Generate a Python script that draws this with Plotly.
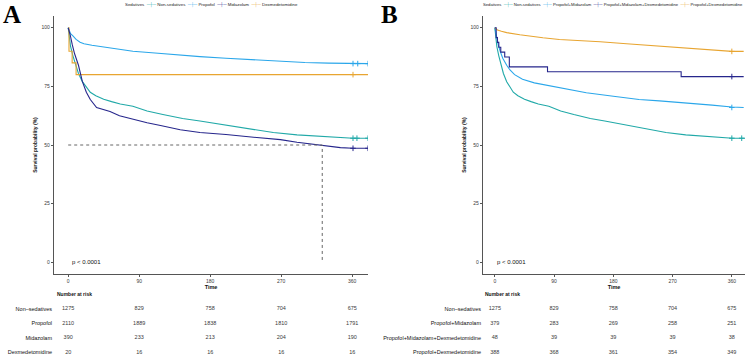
import plotly.graph_objects as go

# ---------------- data ----------------
time_ticks = [0, 90, 180, 270, 360]
y_ticks = [0, 25, 50, 75, 100]

# Panel A
nonsed_t = [0, 1, 3, 6, 9, 13, 18, 23, 28, 35, 45, 55, 66, 82, 100, 120, 145, 167, 200, 227, 260, 290, 319, 340, 361, 380]
nonsed_s = [100, 97, 92, 88, 85, 80.5, 77, 74.5, 72.5, 71, 69.5, 68.5, 67.5, 66.5, 64.5, 63, 61.3, 60.2, 58.5, 56.8, 55.3, 54.3, 53.6, 53.2, 52.9, 52.9]
nonsed_cens = [361, 366, 380]

prop_t = [0, 1, 3, 6, 10, 15, 20, 30, 40, 60, 82, 110, 142, 167, 200, 240, 269, 300, 330, 361, 380]
prop_s = [100, 99, 97.5, 96.5, 95, 93.8, 93.2, 92.5, 92, 91, 90, 89.2, 88.3, 87.7, 87, 86.2, 85.6, 85.2, 84.9, 84.7, 84.7]
prop_cens = [361, 367, 380]

mid_t = [0, 1, 2.5, 5, 8, 13, 18, 23, 28, 36, 45, 53, 65, 82, 100, 117, 142, 167, 200, 235, 269, 290, 307, 315, 322, 345, 361, 380]
mid_s = [100, 99, 97, 93, 89, 84, 77, 72.5, 69.4, 66, 65, 64.3, 62.5, 60.9, 59.5, 58.3, 56.5, 55.3, 54.5, 53.3, 52.3, 51.2, 50.4, 50.2, 49.8, 48.9, 48.6, 48.6]
mid_cens = [361, 380]

dex_t = [0, 1, 5, 10, 380]
dex_s = [100, 90, 85, 80, 80]
dex_cens = [361]

# Panel B
pm_t = [0, 2, 5, 8, 12, 18, 23, 30, 42, 60, 88, 110, 139, 180, 219, 250, 290, 330, 360, 378]
pm_s = [100, 97, 93, 90, 87, 84, 82, 80, 78, 76.5, 74.9, 73.8, 72.3, 70.8, 69.4, 68.8, 68, 67, 66.2, 66.0]
pm_cens = [360]

pmd_t = [0, 2, 4, 6, 9, 15, 22, 80, 283, 378]
pmd_s = [100, 95.8, 93.75, 91.7, 89.6, 87.5, 83.3, 81.25, 79.17, 79.17]
pmd_cens = [360]

pd_t = [0, 4, 10, 18, 38, 55, 73, 98, 129, 160, 200, 240, 275, 310, 340, 360, 378]
pd_s = [100, 99, 98.5, 97.9, 97, 96.3, 95.7, 95, 94.6, 94, 93.2, 92.3, 91.5, 90.8, 90.2, 89.9, 89.9]
pd_cens = [360]

nonsedB_cens = [360, 375]

groups_A = ["Non\u2013sedatives", "Propofol", "Midazolam", "Dexmedetomidine"]
groups_B = ["Non\u2013sedatives", "Propofol+Midazolam", "Propofol+Midazolam+Dexmedetomidine", "Propofol+Dexmedetomidine"]
legend_A = ["Non-sedatives", "Propofol", "Midazolam", "Dexmedetomidine"]
legend_B = ["Non-sedatives", "Propofol+Midazolam", "Propofol+Midazolam+Dexmedetomidine", "Propofol+Dexmedetomidine"]

risk_A = [[1275, 829, 758, 704, 675],
          [2110, 1889, 1838, 1810, 1791],
          [390, 233, 213, 204, 190],
          [20, 16, 16, 16, 16]]
risk_B = [[1275, 829, 758, 704, 675],
          [379, 283, 269, 258, 251],
          [48, 39, 39, 39, 38],
          [388, 368, 361, 354, 349]]

# ---------------- style ----------------
colors = ["#21A9A8", "#2BA7EA", "#26268C", "#E8A531"]
W, H = 750, 357
FONT = "Liberation Sans, Arial, sans-serif"
TXT = "#3a3a3a"

def px_x(p):
    return p / W

def px_y(p):
    return 1 - p / H

fig = go.Figure()

def add_curve(t, s, cens, color, xa, ya, shape="linear"):
    fig.add_trace(go.Scatter(x=t, y=s, mode="lines", line=dict(color=color, width=1.1, shape=shape),
                             xaxis=xa, yaxis=ya, showlegend=False, hoverinfo="skip"))
    cy = [s[-1] for _ in cens]
    fig.add_trace(go.Scatter(x=cens, y=cy, mode="markers",
                             marker=dict(symbol="cross-thin", size=4, line=dict(color=color, width=1)),
                             xaxis=xa, yaxis=ya, showlegend=False, hoverinfo="skip"))

# Panel A curves
add_curve(nonsed_t, nonsed_s, nonsed_cens, colors[0], "x", "y")
add_curve(prop_t, prop_s, prop_cens, colors[1], "x", "y")
add_curve(dex_t, dex_s, dex_cens, colors[3], "x", "y", shape="hv")
add_curve(mid_t, mid_s, mid_cens, colors[2], "x", "y")

# median line for Midazolam
t_med = next(t for t, s in zip(mid_t, mid_s) if s <= 50)
fig.add_trace(go.Scatter(x=[0, t_med, t_med], y=[50, 50, 0], mode="lines",
                         line=dict(color="#666666", width=1, dash="dot"),
                         xaxis="x", yaxis="y", showlegend=False, hoverinfo="skip"))

# Panel B curves
add_curve(nonsed_t, nonsed_s, nonsedB_cens, colors[0], "x2", "y2")
add_curve(pm_t, pm_s, pm_cens, colors[1], "x2", "y2")
add_curve(pd_t, pd_s, pd_cens, colors[3], "x2", "y2")
add_curve(pmd_t, pmd_s, pmd_cens, colors[2], "x2", "y2", shape="hv")

# Risk tables
for i, row in enumerate(risk_A):
    fig.add_trace(go.Scatter(x=time_ticks, y=[i] * len(row), mode="text", text=[str(v) for v in row],
                             textfont=dict(size=5.5, color=TXT, family=FONT),
                             xaxis="x3", yaxis="y3", showlegend=False, hoverinfo="skip"))
for i, row in enumerate(risk_B):
    fig.add_trace(go.Scatter(x=time_ticks, y=[i] * len(row), mode="text", text=[str(v) for v in row],
                             textfont=dict(size=5.5, color=TXT, family=FONT),
                             xaxis="x4", yaxis="y4", showlegend=False, hoverinfo="skip"))

xA = [px_x(54), px_x(368)]
xB = [px_x(483), px_x(745)]
yplot = [px_y(274), px_y(16)]
ytab = [px_y(356.5), px_y(300.5)]
xr = [-18, 380]

def main_x(anchor):
    return dict(range=xr, tickvals=time_ticks, ticks="outside", ticklen=2, tickwidth=0.8, tickcolor="#555",
                showline=True, linecolor="#555", linewidth=1.2, showgrid=False, zeroline=False,
                tickfont=dict(size=5, color=TXT, family=FONT), anchor=anchor,
                title=dict(text="<b>Time</b>", font=dict(size=5.5, color="#111", family=FONT), standoff=1))

def main_y(anchor):
    return dict(range=[-5, 105], tickvals=y_ticks, ticks="outside", ticklen=2, tickwidth=0.8, tickcolor="#555",
                showline=True, linecolor="#555", linewidth=1.2, showgrid=False, zeroline=False,
                tickfont=dict(size=5, color=TXT, family=FONT), anchor=anchor,
                title=dict(text="<b>Survival probability (%)</b>", font=dict(size=5, color="#111", family=FONT), standoff=3))

def tab_x(anchor):
    return dict(range=xr, showticklabels=False, showline=False, showgrid=False, zeroline=False, ticks="", anchor=anchor)

def tab_y(anchor, labels):
    return dict(range=[3.3, -0.6], tickvals=list(range(len(labels))), ticktext=labels, showline=False,
                showgrid=False, zeroline=False, ticks="", ticklabelstandoff=1,
                tickfont=dict(size=5.5, color="#111", family=FONT), anchor=anchor)

fig.update_layout(
    width=W, height=H, autosize=False, margin=dict(l=0, r=0, t=0, b=0),
    paper_bgcolor="white", plot_bgcolor="white", showlegend=False,
    font=dict(family=FONT, size=5.5, color=TXT),
    xaxis=dict(domain=xA, **main_x("y")),
    yaxis=dict(domain=yplot, **main_y("x")),
    xaxis2=dict(domain=xB, **main_x("y2")),
    yaxis2=dict(domain=yplot, **main_y("x2")),
    xaxis3=dict(domain=xA, **tab_x("y3")),
    yaxis3=dict(domain=ytab, **tab_y("x3", groups_A)),
    xaxis4=dict(domain=xB, **tab_x("y4")),
    yaxis4=dict(domain=ytab, **tab_y("x4", groups_B)),
)

def legend_text(names):
    parts = ["Sedatives"]
    for n, c in zip(names, colors):
        parts.append('<span style="color:%s">\u2500\u253c\u2500</span> %s' % (c, n))
    return "  ".join(parts)

annotations = [
    dict(text="<b>A</b>", x=px_x(1), y=px_y(15), xref="paper", yref="paper", xanchor="left", yanchor="middle",
         showarrow=False, font=dict(size=25, color="#000", family="Liberation Serif, Times New Roman, serif")),
    dict(text="<b>B</b>", x=px_x(379), y=px_y(15), xref="paper", yref="paper", xanchor="left", yanchor="middle",
         showarrow=False, font=dict(size=25, color="#000", family="Liberation Serif, Times New Roman, serif")),
    dict(text=legend_text(legend_A), x=px_x(211), y=px_y(5.5), xref="paper", yref="paper", xanchor="center",
         yanchor="middle", showarrow=False, font=dict(size=4.4, color="#222", family=FONT)),
    dict(text=legend_text(legend_B), x=px_x(613), y=px_y(5.5), xref="paper", yref="paper", xanchor="center",
         yanchor="middle", showarrow=False, font=dict(size=4.2, color="#222", family=FONT)),
    dict(text="<b>Number at risk</b>", x=px_x(55), y=px_y(294), xref="paper", yref="paper", xanchor="left",
         yanchor="middle", showarrow=False, font=dict(size=5, color="#111", family=FONT)),
    dict(text="<b>Number at risk</b>", x=px_x(483), y=px_y(294), xref="paper", yref="paper", xanchor="left",
         yanchor="middle", showarrow=False, font=dict(size=5, color="#111", family=FONT)),
    dict(text="p < 0.0001", x=2, y=0, xref="x", yref="y", xanchor="left", yanchor="middle",
         showarrow=False, font=dict(size=6, color="#111", family=FONT)),
    dict(text="p < 0.0001", x=0, y=0, xref="x2", yref="y2", xanchor="left", yanchor="middle",
         showarrow=False, font=dict(size=6, color="#111", family=FONT)),
]
fig.update_layout(annotations=annotations)

fig.write_html("out.html")
